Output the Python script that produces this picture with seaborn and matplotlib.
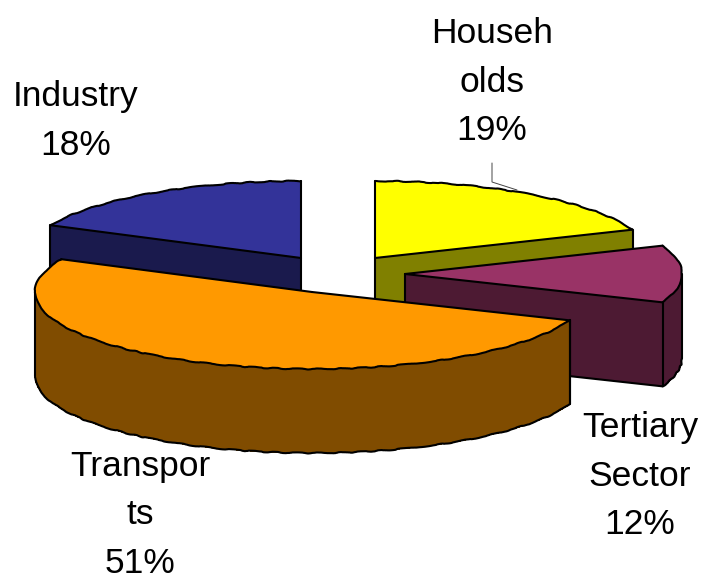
import numpy as np
import matplotlib
matplotlib.use('Agg')
import matplotlib.pyplot as plt
import seaborn as sns

# данные
categories = ['Households', 'Tertiary Sector', 'Transports', 'Industry']
shares = [19, 12, 51, 18]
top_colors = ['#FFFF00', '#993366', '#FF9900', '#333399']
side_colors = ['#808000', '#4D1A33', '#804C00', '#1A1A4D']
label_texts = ['Househ\nolds\n19%', 'Tertiary\nSector\n12%', 'Transpor\nts\n51%', 'Industry\n18%']

# оформление (пиксели картинки)
W, H = 702, 580
RX, RY = 277, 77
DEPTH = 84
LW = 1.5
SKETCH = (0.5, 40, 6)
centers_px = {'Households': (375, 258), 'Tertiary Sector': (405, 274),
              'Transports': (312, 292), 'Industry': (301, 258)}
label_pos = {'Households': (492, 82), 'Tertiary Sector': (640, 476),
             'Transports': (140, 515), 'Industry': (76, 121)}
draw_order = ['Industry', 'Households', 'Tertiary Sector', 'Transports']

sns.set_theme(style='white')
plt.rcParams['font.family'] = ['Liberation Sans', 'DejaVu Sans']

fig = plt.figure(figsize=(W / 100, H / 100), dpi=100)
ax = fig.add_axes([0, 0, 1, 1])


def to_data(px, py):
    return px / RX, (H - py) / RY


def rim_point(c, a):
    return c[0] + np.cos(np.radians(a)), c[1] + np.sin(np.radians(a))


def wall_visible(a, mid):
    ca = np.cos(np.radians(a))
    if abs(ca) < 1e-6:
        return False
    return np.sin(np.radians(mid - a)) * np.sign(ca) > 0


def draw_slice(name, z):
    i = categories.index(name)
    frac = shares[i] / sum(shares)
    start = 90 - 360 * sum(shares[:i]) / sum(shares)
    end = start - 360 * frac
    mid = (start + end) / 2
    cx, cy = centers_px[name]
    top_c = to_data(cx, cy)
    bot_c = to_data(cx, cy + DEPTH)
    line = {'color': 'black', 'linewidth': LW, 'solid_capstyle': 'round'}

    # боковая стенка - стопка одинаковых секторов
    for d in range(DEPTH, 0, -1):
        ax.pie([frac], normalize=False, startangle=start, counterclock=False,
               colors=[side_colors[i]], center=to_data(cx, cy + d),
               wedgeprops={'linewidth': 0, 'zorder': z, 'antialiased': False})

    # нижний контур: только то, что видно спереди
    angles = np.linspace(start, end, 200)
    low = angles[np.sin(np.radians(angles)) < 0]
    if len(low):
        xs, ys = rim_point(bot_c, low)
        rim, = ax.plot(xs, ys, zorder=z + 1, **line)
        rim.set_sketch_params(*SKETCH)
    for a in (start, end):
        if wall_visible(a, mid):
            x, y = rim_point(bot_c, a)
            ax.plot([bot_c[0], x], [bot_c[1], y], zorder=z + 1, **line)

    # вертикальные рёбра: крайние слева/справа и передние углы
    pts = [top_c, rim_point(top_c, start), rim_point(top_c, end)]
    for a in (0, -180, -360):
        if end < a < start:
            pts.append(rim_point(top_c, a))
    pts = np.array(pts)
    edges = []
    for xval in (pts[:, 0].min(), pts[:, 0].max()):
        same = pts[np.isclose(pts[:, 0], xval)]
        edges.append(same[same[:, 1].argmin()])
    for a in (start, end):
        if np.sin(np.radians(a)) < 0:
            edges.append(np.array(rim_point(top_c, a)))
    for x, y in edges:
        ax.plot([x, x], [y - DEPTH / RY, y], zorder=z + 1, **line)

    # верхняя грань
    ax.pie([frac], normalize=False, startangle=start, counterclock=False,
           colors=[top_colors[i]], center=top_c,
           wedgeprops={'linewidth': 0, 'zorder': z + 2})
    xs, ys = rim_point(top_c, angles)
    rim, = ax.plot(xs, ys, zorder=z + 3, **line)
    rim.set_sketch_params(*SKETCH)
    for a in (start, end):
        x, y = rim_point(top_c, a)
        ax.plot([top_c[0], x], [top_c[1], y], zorder=z + 3, **line)


for k, name in enumerate(draw_order):
    draw_slice(name, 10 * (k + 1))

# выноска к подписи
ax.plot(*zip(to_data(492, 163), to_data(492, 182), to_data(517, 190)),
        color='#444444', linewidth=0.7, zorder=5)

for name, text in zip(categories, label_texts):
    x, y = to_data(*label_pos[name])
    ax.text(x, y, text, ha='center', va='center', fontsize=25.5, color='black',
            linespacing=1.6, zorder=100)

ax.set_aspect('auto')
ax.set_xlim(0, W / RX)
ax.set_ylim(0, H / RY)
ax.axis('off')
fig.savefig('out.png', dpi=100)
